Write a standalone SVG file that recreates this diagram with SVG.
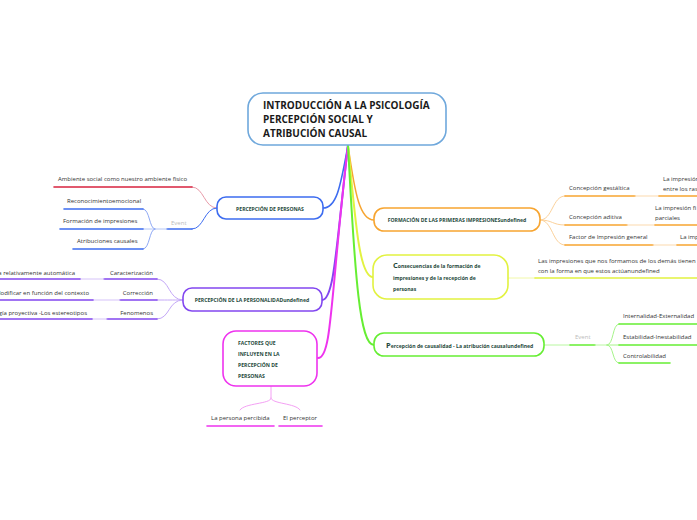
<svg xmlns="http://www.w3.org/2000/svg" width="697" height="520" viewBox="0 0 697 520">
<style>
text{font-family:"Open Sans","Noto Sans","Liberation Sans",sans-serif}
.t{font-size:6px;fill:#333}
.n{font-size:5.1px;font-weight:bold;fill:#1f4a3c}
.ev{font-size:6px;fill:#bbb}
.c{fill:none;stroke-linecap:round}
.box{fill:#fff;stroke-width:1.6}
</style>
<rect width="697" height="520" fill="#fff"/>
<g id="connectors" class="c">
  <path d="M348,145 C340,190 336,208 323,208" stroke="#3d6cf0" stroke-width="1.5"/>
  <path d="M348,145 C355,195 360,220 374,220" stroke="#f7a531" stroke-width="1.5"/>
  <path d="M348,145 C336,250 334,300 322,300" stroke="#8247f0" stroke-width="2"/>
  <path d="M348,145 C330,300 332,358 318,358" stroke="#ee33ee" stroke-width="2"/>
  <path d="M348,145 C356,230 360,277 373,277" stroke="#e2f240" stroke-width="2"/>
  <path d="M348,145 C355,280 360,345 374,345" stroke="#66ee33" stroke-width="2"/>
  <path d="M217,208 C204,208 204,187 192,187" stroke="#e89aa8" stroke-width="1"/>
  <line x1="54" y1="187" x2="192" y2="187" stroke="#d8233f" stroke-width="1.6"/>
  <path d="M217,208 C204,208 204,229 192,229" stroke="#3d6cf0" stroke-width="1"/>
  <line x1="167" y1="229" x2="192" y2="229" stroke="#3d6cf0" stroke-width="1.6"/>
  <line x1="143" y1="229" x2="167" y2="229" stroke="#b4c6f7" stroke-width="1"/>
  <path d="M155,229 C149,229 150,209 143,209" stroke="#8fa9f5" stroke-width="1"/>
  <path d="M155,229 C149,229 150,249 143,249" stroke="#8fa9f5" stroke-width="1"/>
  <line x1="64" y1="209" x2="143" y2="209" stroke="#3d6cf0" stroke-width="1.6"/>
  <line x1="60" y1="229" x2="143" y2="229" stroke="#3d6cf0" stroke-width="1.6"/>
  <line x1="73" y1="249" x2="143" y2="249" stroke="#3d6cf0" stroke-width="1.6"/>
  <path d="M183,300 C168,300 170,279 157,279" stroke="#c4a8f7" stroke-width="1"/>
  <path d="M183,300 C170,300 170,300 157,300" stroke="#c4a8f7" stroke-width="1"/>
  <path d="M183,300 C168,300 170,319 157,319" stroke="#c4a8f7" stroke-width="1"/>
  <line x1="104" y1="279" x2="157" y2="279" stroke="#8247f0" stroke-width="1.6"/>
  <line x1="120" y1="300" x2="157" y2="300" stroke="#8247f0" stroke-width="1.6"/>
  <line x1="107" y1="319" x2="157" y2="319" stroke="#8247f0" stroke-width="1.6"/>
  <line x1="80" y1="279" x2="104" y2="279" stroke="#d5c2f9" stroke-width="1"/>
  <line x1="93" y1="300" x2="120" y2="300" stroke="#d5c2f9" stroke-width="1"/>
  <line x1="92" y1="319" x2="107" y2="319" stroke="#d5c2f9" stroke-width="1"/>
  <line x1="0" y1="279" x2="80" y2="279" stroke="#8247f0" stroke-width="1.6"/>
  <line x1="0" y1="300" x2="93" y2="300" stroke="#8247f0" stroke-width="1.6"/>
  <line x1="0" y1="319" x2="92" y2="319" stroke="#8247f0" stroke-width="1.6"/>
  <path d="M271,386 L271,398 C271,404 244,403 240,410" stroke="#f4a0f4" stroke-width="1"/>
  <path d="M271,398 C271,404 296,403 300,410" stroke="#f4a0f4" stroke-width="1"/>
  <line x1="207" y1="426" x2="274" y2="426" stroke="#ee33ee" stroke-width="1.6"/>
  <line x1="279" y1="426" x2="322" y2="426" stroke="#ee33ee" stroke-width="1.6"/>
  <path d="M540,220 C553,220 552,196 565,196" stroke="#fbd19a" stroke-width="1"/>
  <path d="M540,220 C553,220 552,225 565,225" stroke="#fbd19a" stroke-width="1"/>
  <path d="M540,220 C553,220 552,245 565,245" stroke="#fbd19a" stroke-width="1"/>
  <line x1="565" y1="196" x2="635" y2="196" stroke="#f7a531" stroke-width="1.6"/>
  <line x1="635" y1="196" x2="659" y2="196" stroke="#fbd9ad" stroke-width="1"/>
  <line x1="659" y1="196" x2="697" y2="196" stroke="#f7a531" stroke-width="1.6"/>
  <line x1="565" y1="225" x2="627" y2="225" stroke="#f7a531" stroke-width="1.6"/>
  <line x1="627" y1="225" x2="655" y2="225" stroke="#fbd9ad" stroke-width="1"/>
  <line x1="655" y1="225" x2="697" y2="225" stroke="#f7a531" stroke-width="1.6"/>
  <line x1="565" y1="245" x2="653" y2="245" stroke="#f7a531" stroke-width="1.6"/>
  <line x1="653" y1="245" x2="677" y2="245" stroke="#fbd9ad" stroke-width="1"/>
  <line x1="677" y1="245" x2="697" y2="245" stroke="#f7a531" stroke-width="1.6"/>
  <line x1="508" y1="278" x2="535" y2="278" stroke="#f1f8a8" stroke-width="1"/>
  <line x1="535" y1="278" x2="697" y2="278" stroke="#e2f240" stroke-width="1.6"/>
  <line x1="544" y1="345" x2="570" y2="345" stroke="#b8f7a0" stroke-width="1"/>
  <line x1="570" y1="345" x2="595" y2="345" stroke="#66ee33" stroke-width="1.6"/>
  <line x1="595" y1="345" x2="607" y2="345" stroke="#b8f7a0" stroke-width="1"/>
  <path d="M607,345 C614,345 612,324 619,324" stroke="#a6f48a" stroke-width="1"/>
  <path d="M607,345 C614,345 612,363 619,363" stroke="#a6f48a" stroke-width="1"/>
  <line x1="607" y1="345" x2="619" y2="345" stroke="#a6f48a" stroke-width="1"/>
  <line x1="619" y1="324" x2="697" y2="324" stroke="#66ee33" stroke-width="1.6"/>
  <line x1="619" y1="345" x2="697" y2="345" stroke="#66ee33" stroke-width="1.6"/>
  <line x1="619" y1="363" x2="670" y2="363" stroke="#66ee33" stroke-width="1.6"/>
</g>
<g id="central">
  <rect x="248" y="93" width="198" height="52" rx="15" class="box" stroke="#6fa8dc"/>
  <text x="263" y="109" font-size="10" font-weight="bold" fill="#1a1a1a">INTRODUCCIÓN A LA PSICOLOGÍA</text>
  <text x="263" y="123" font-size="10" font-weight="bold" fill="#1a1a1a">PERCEPCIÓN SOCIAL Y</text>
  <text x="263" y="137" font-size="10" font-weight="bold" fill="#1a1a1a">ATRIBUCIÓN CAUSAL</text>
</g>
<g id="percepcion-personas">
  <rect x="217" y="197" width="106" height="22" rx="9" class="box" stroke="#3d6cf0"/>
  <text x="270" y="211" text-anchor="middle" class="n" font-size="6.2">PERCEPCIÓN DE PERSONAS</text>
  <text x="58" y="181" class="t">Ambiente social como nuestro ambiente fisico</text>
  <text x="171" y="225" class="ev">Event</text>
  <text x="67" y="203" class="t">Reconocimientoemocional</text>
  <text x="63" y="223" class="t">Formación de impresiones</text>
  <text x="77" y="243" class="t">Atribuciones causales</text>
</g>
<g id="percepcion-personalidad">
  <rect x="183" y="288" width="139" height="23" rx="9" class="box" stroke="#8247f0"/>
  <text x="252" y="302" text-anchor="middle" class="n">PERCEPCIÓN DE LA PERSONALIDADundefined</text>
  <text x="153" y="275" text-anchor="end" class="t">Caracterización</text>
  <text x="153" y="295" text-anchor="end" class="t">Corrección</text>
  <text x="153" y="315" text-anchor="end" class="t">Fenomenos</text>
  <text x="75" y="275" text-anchor="end" class="t">a relativamente automática</text>
  <text x="89" y="295" text-anchor="end" class="t">Modificar en función del contexto</text>
  <text x="87" y="315" text-anchor="end" class="t">gía proyectiva -Los estereotipos</text>
</g>
<g id="factores">
  <rect x="223" y="331" width="94" height="55" rx="13" class="box" stroke="#ee33ee"/>
  <text x="238" y="345" class="n" font-size="4.9">FACTORES QUE</text>
  <text x="238" y="356" class="n" font-size="4.9">INFLUYEN EN LA</text>
  <text x="238" y="367" class="n" font-size="4.9">PERCEPCIÓN DE</text>
  <text x="238" y="378" class="n" font-size="4.9">PERSONAS</text>
  <text x="211" y="420" class="t">La persona percibida</text>
  <text x="283" y="420" class="t">El perceptor</text>
</g>
<g id="formacion">
  <rect x="374" y="208" width="166" height="23" rx="10" class="box" stroke="#f7a531"/>
  <text x="457" y="222" text-anchor="middle" class="n">FORMACIÓN DE LAS PRIMERAS IMPRESIONESundefined</text>
  <text x="569" y="190" class="t">Concepción gestáltica</text>
  <text x="569" y="219" class="t">Concepción aditiva</text>
  <text x="569" y="239" class="t">Factor de Impresión general</text>
  <text x="663" y="181" class="t">La impresión</text>
  <text x="663" y="191" class="t">entre los ras</text>
  <text x="655" y="210" class="t">La impresión fi</text>
  <text x="655" y="220" class="t">parciales</text>
  <text x="680" y="239" class="t">La imp</text>
</g>
<g id="consecuencias">
  <rect x="373" y="255" width="135" height="44" rx="14" class="box" stroke="#e2f240"/>
  <text x="393" y="268" class="n"><tspan font-size="7.5">C</tspan>onsecuencias de la formación de</text>
  <text x="393" y="280" class="n">impresiones y de la recepción de</text>
  <text x="393" y="291" class="n">personas</text>
  <text x="538" y="263" class="t" font-size="5">Las impresiones que nos formamos de los demás tienen implicad</text>
  <text x="538" y="273" class="t" font-size="5">con la forma en que estos actúanundefined</text>
</g>
<g id="causalidad">
  <rect x="374" y="333" width="170" height="23" rx="10" class="box" stroke="#66ee33"/>
  <text x="386" y="348" class="n"><tspan font-size="7.5">P</tspan>ercepción de causalidad - La atribución causalundefined</text>
  <text x="575" y="339" class="ev">Event</text>
  <text x="623" y="318" class="t">Internalidad-Externalidad</text>
  <text x="623" y="339" class="t">Estabilidad-Inestabilidad</text>
  <text x="623" y="358" class="t">Controlabilidad</text>
</g>
</svg>
